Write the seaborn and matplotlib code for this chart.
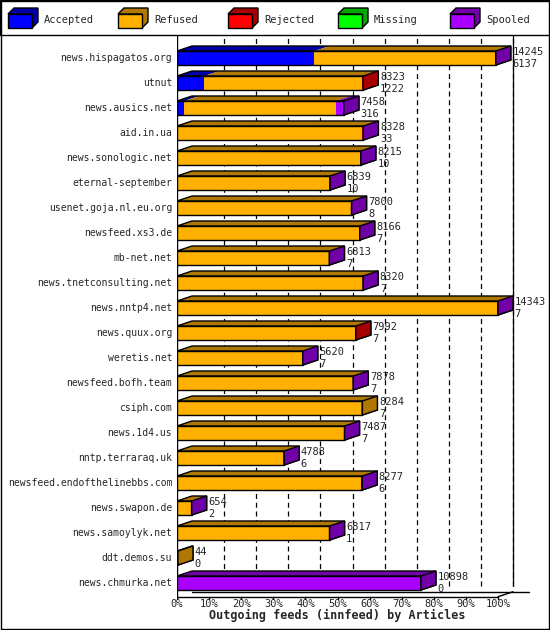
import numpy as np
import matplotlib
matplotlib.use('Agg')
import matplotlib.pyplot as plt
from matplotlib.patches import Polygon, Rectangle
import seaborn as sns

sns.set_theme(style='white')
plt.rcParams['font.family'] = ['DejaVu Sans Mono']

# feed data
hosts = ["news.hispagatos.org", "utnut", "news.ausics.net", "aid.in.ua", "news.sonologic.net",
         "eternal-september", "usenet.goja.nl.eu.org", "newsfeed.xs3.de", "mb-net.net",
         "news.tnetconsulting.net", "news.nntp4.net", "news.quux.org", "weretis.net",
         "newsfeed.bofh.team", "csiph.com", "news.1d4.us", "nntp.terraraq.uk",
         "newsfeed.endofthelinebbs.com", "news.swapon.de", "news.samoylyk.net",
         "ddt.demos.su", "news.chmurka.net"]
totals = [14245, 8323, 7458, 8328, 8215, 6839, 7800, 8166, 6813, 8320, 14343, 7992, 5620,
          7878, 8284, 7487, 4788, 8277, 654, 6817, 44, 10898]
accepted = [6137, 1222, 316, 33, 10, 10, 8, 7, 7, 7, 7, 7, 7, 7, 7, 7, 6, 6, 2, 1, 0, 0]
rejected = [0, 60, 0, 60, 0, 0, 0, 0, 0, 0, 0, 40, 0, 0, 0, 0, 0, 0, 0, 0, 0, 0]
spooled = [20, 0, 350, 20, 10, 10, 10, 10, 10, 10, 10, 0, 10, 10, 0, 10, 10, 60, 10, 10, 0, 10898]
refused = [t - a - r - s for t, a, r, s in zip(totals, accepted, rejected, spooled)]
ticks = [0, 10, 20, 30, 40, 50, 60, 70, 80, 90, 100]

cols = {'Accepted': ('#0000ff', '#0000a8'), 'Refused': ('#ffb000', '#b07800'),
        'Rejected': ('#ff0000', '#a80000'), 'Missing': ('#00ff00', '#00a800'),
        'Spooled': ('#aa00ff', '#7000a8')}

W, H = 550, 630
fig = plt.figure(figsize=(5.5, 6.3), dpi=100)
x0, x1, ytop, ybot = 177, 545, 35, 600
ax = fig.add_axes([x0 / W, 1 - ybot / H, (x1 - x0) / W, (ybot - ytop) / H])
pxp = 3.21  # px per percent
ax.set_xlim(0, (x1 - x0) / pxp)
ax.set_ylim((ybot - 58) / 25, (ytop - 58) / 25)
ax.axis('off')
dx, dy = 15 / pxp, -5 / 25
hb = 14 / 25
vmax = max(totals)

# grid on back wall
for t in ticks[1:]:
    ax.plot([t + dx, t + dx], [21.3 + dy, -0.9], ls='--', color='black', lw=0.9, dashes=(4, 3))
ax.plot([100 + dx] * 2, [21.3 + dy, -0.9], color='black', lw=0.9)
ax.plot([0, 0], [-0.9, 21.68], color='black', lw=1)
ax.plot([0, 100], [21.55, 21.55], color='black', lw=1)
ax.plot([100, 100 + dx], [21.55, 21.55 + dy], color='black', lw=1)
ax.plot([dx, 100 + dx + 5], [21.55 + dy, 21.55 + dy], color='black', lw=1)
for t in ticks:
    ax.plot([t, t], [21.55, 21.68], color='black', lw=1)
    ax.text(t, 21.85, f"{t}%", ha='center', va='center', fontsize=7.5)
ax.text(50, 22.3, "Outgoing feeds (innfeed) by Articles", ha='center', va='center',
        fontsize=8.5, fontweight='bold')

for i, h in enumerate(hosts):
    segs = [('Accepted', accepted[i]), ('Refused', refused[i]),
            ('Rejected', rejected[i]), ('Spooled', spooled[i])]
    left = 0
    last = 'Refused'
    for name, v in segs:
        if v <= 0:
            continue
        w = v / vmax * 100
        ax.barh(i, w, left=left, height=hb, color=cols[name][0], edgecolor='none', zorder=3)
        ax.add_patch(Polygon([(left, i - hb / 2), (left + w, i - hb / 2),
                              (left + w + dx, i - hb / 2 + dy), (left + dx, i - hb / 2 + dy)],
                             closed=True, fc=cols[name][1], ec='none', zorder=3))
        left += w
        last = name
    end = left
    ax.add_patch(Rectangle((0, i - hb / 2), end, hb, fill=False, ec='black', lw=1, zorder=4))
    ax.add_patch(Polygon([(0, i - hb / 2), (dx, i - hb / 2 + dy), (end + dx, i - hb / 2 + dy),
                          (end + dx, i + hb / 2 + dy), (end, i + hb / 2), (end, i - hb / 2)],
                         closed=True, fill=False, ec='black', lw=1, zorder=4))
    ax.add_patch(Polygon([(end, i - hb / 2), (end + dx, i - hb / 2 + dy),
                          (end + dx, i + hb / 2 + dy), (end, i + hb / 2)],
                         closed=True, fc=cols[last][1], ec='black', lw=1, zorder=5))
    ax.text(end + dx + 0.5, i - 0.25, str(totals[i]), fontsize=7.5, va='center', zorder=6)
    ax.text(end + dx + 0.5, i + 0.25, str(accepted[i]), fontsize=7.5, va='center', zorder=6)
    ax.text(-1.5, i, h, ha='right', va='center', fontsize=7)

# legend
lx = [8, 118, 228, 338, 450]
for (name, (c, d)), x in zip(cols.items(), lx):
    fx, fy = x / W, 1 - 28 / H
    bw, bh = 24 / W, 14 / H
    ox, oy = 6 / W, 6 / H
    fig.patches.append(Polygon([(fx, fy + bh), (fx + ox, fy + bh + oy), (fx + bw + ox, fy + bh + oy),
                                (fx + bw + ox, fy + oy), (fx + bw, fy), (fx + bw, fy + bh)],
                               closed=True, fc=d, ec='black', lw=1, transform=fig.transFigure))
    fig.patches.append(Rectangle((fx, fy), bw, bh, fc=c, ec='black', lw=1, transform=fig.transFigure))
    fig.text((x + 36) / W, 1 - 20 / H, name, fontsize=7.5, va='center')
fig.patches.append(Rectangle((0, 1 - 35 / H), 1, 35 / H, fill=False, ec='black', lw=1,
                             transform=fig.transFigure))
fig.patches.append(Rectangle((0.001, 0.001), 0.998, 0.998, fill=False, ec='black', lw=1,
                             transform=fig.transFigure))

fig.savefig('out.png', dpi=100)
